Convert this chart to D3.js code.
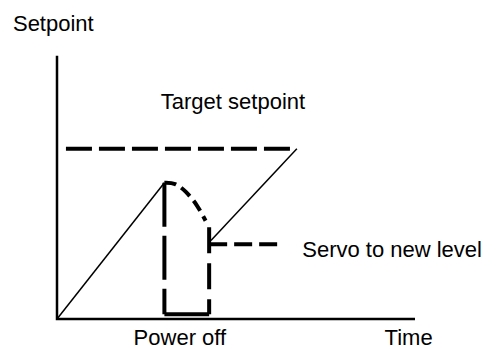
<html>
<head>
    <script src="https://d3js.org/d3.v7.min.js"></script>
</head>
<style>
    body { margin: 0; background: white; }
    .lbl { font-family: "Liberation Sans", Arial, sans-serif; font-size: 22px; fill: black; }
    .thin { fill: none; stroke: black; stroke-width: 1.5px; }
    .thick { fill: none; stroke: black; stroke-width: 4px; }
    .axis { fill: none; stroke: black; stroke-width: 2.5px; }
</style>
<body>
    <svg id="chart" width="496" height="349"></svg>
    <script>
        // setpoint vs time, arbitrary units 0..10
        const rampUp = [[0, 0], [3.0, 5.2]];
        const target = [[0.25, 6.5], [6.7, 6.5]];
        const rampDown = [[6.7, 6.5], [4.3, 3.0]];
        const decay = [[3.0, 5.2], [3.3, 5.15], [3.6, 4.85], [3.9, 4.35], [4.15, 3.75]];
        const powerOff = [[3.0, 5.2], [3.0, 0.18]];
        const powerOffBottom = [[3.0, 0.18], [4.25, 0.18]];
        const restart = [[4.25, 0.18], [4.25, 3.5]];
        const servo = [[4.25, 2.85], [6.3, 2.85]];

        const labels = [
            { text: "Setpoint", x: -1.23, y: 11.0 },
            { text: "Target setpoint", x: 2.9, y: 8.0 },
            { text: "Servo to new level", x: 6.85, y: 2.35 },
            { text: "Power off", x: 2.14, y: -1.0 },
            { text: "Time", x: 9.15, y: -1.0 }
        ];

        const svg = d3.select("svg#chart");
        const x = d3.scaleLinear().domain([0, 10]).range([57, 415]);
        const y = d3.scaleLinear().domain([0, 10]).range([319, 57]);
        const line = d3.line().x(d => x(d[0])).y(d => y(d[1]));

        // axes
        svg.append("path").attr("class", "axis")
           .attr("d", line([[0, 10.05], [0, 0], [10, 0]]));

        svg.append("path").attr("class", "thin").attr("d", line(rampUp));
        svg.append("path").attr("class", "thin").attr("d", line(rampDown));

        svg.append("path").attr("class", "thick")
           .attr("stroke-dasharray", "26,7").attr("d", line(target));
        svg.append("path").attr("class", "thick")
           .attr("stroke-dasharray", "12,6")
           .attr("d", line.curve(d3.curveCardinal)(decay));
        line.curve(d3.curveLinear);
        svg.append("path").attr("class", "thick")
           .attr("stroke-dasharray", "44,9").attr("d", line(powerOff));
        svg.append("path").attr("class", "thick").attr("d", line(powerOffBottom));
        svg.append("path").attr("class", "thick")
           .attr("stroke-dasharray", "26,10").attr("d", line(restart.slice().reverse()));
        svg.append("path").attr("class", "thick")
           .attr("stroke-dasharray", "18,7").attr("d", line(servo));

        svg.selectAll("text.lbl").data(labels).join("text")
           .attr("class", "lbl")
           .attr("x", d => x(d.x))
           .attr("y", d => y(d.y))
           .text(d => d.text);
    </script>
</body>
</html>
